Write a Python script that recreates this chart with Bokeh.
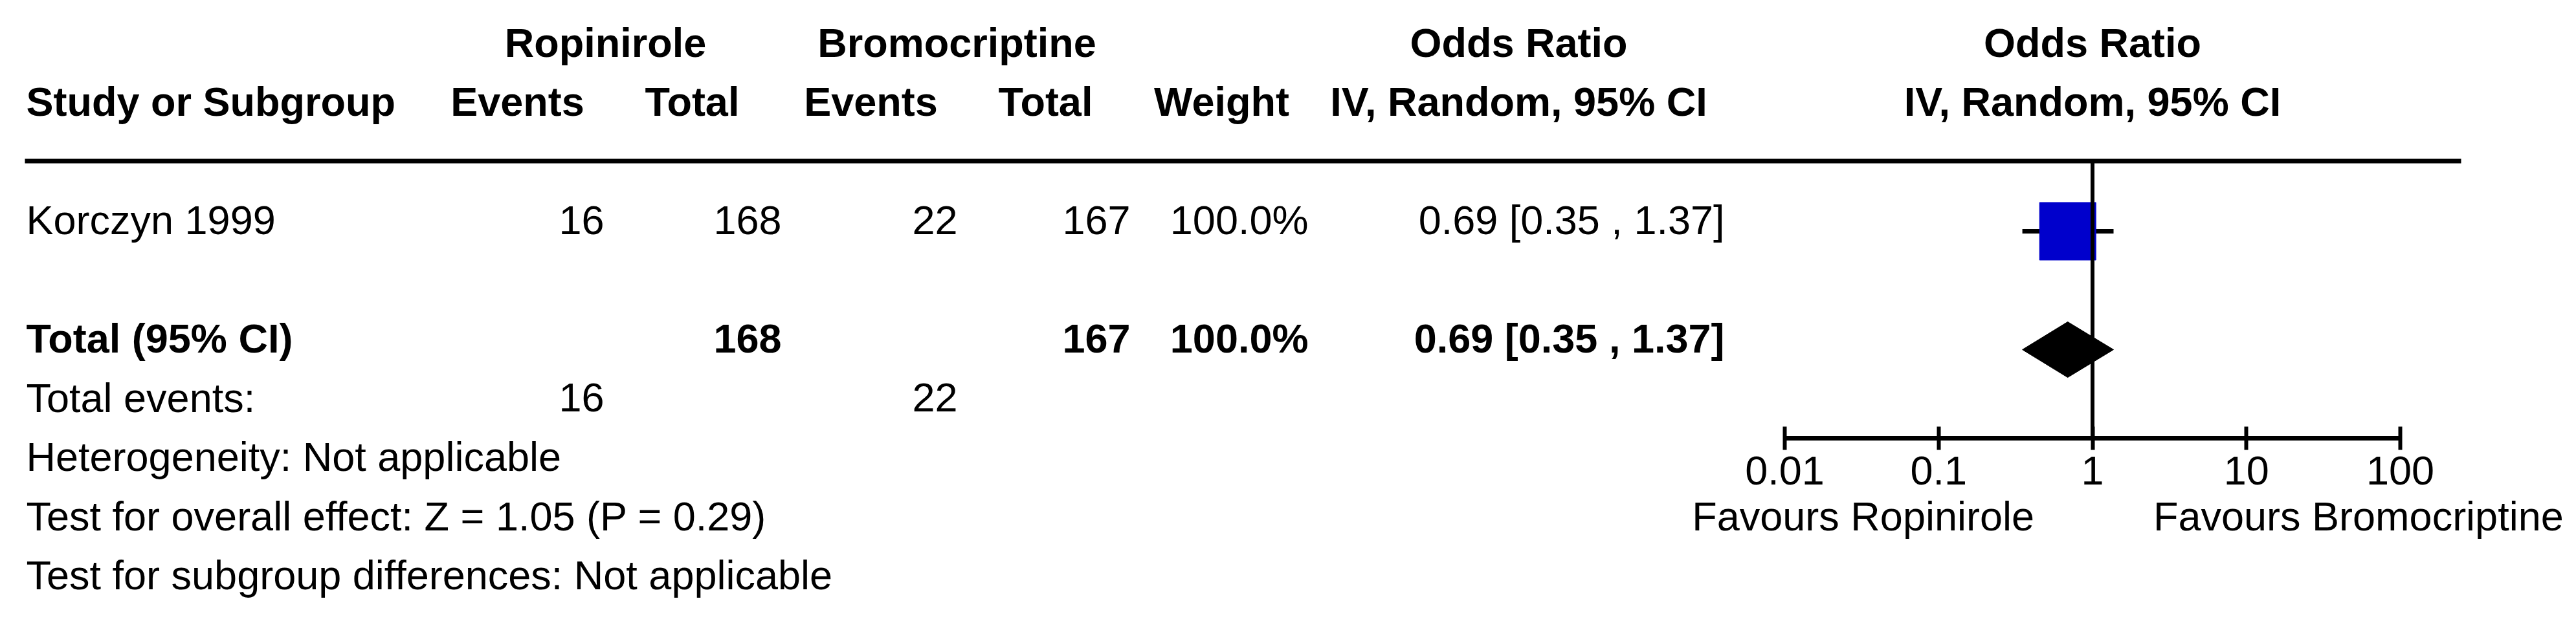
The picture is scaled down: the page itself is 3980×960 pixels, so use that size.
from bokeh.plotting import figure
from bokeh.models import Range1d, LogScale, LinearAxis, FixedTicker, ColumnDataSource
from bokeh.core.properties import value
from bokeh.embed import file_html
from bokeh.resources import INLINE

# ---------------- data ----------------
group_labels = ["Ropinirole", "Bromocriptine"]
studies = ["Korczyn 1999"]
rop_events = [16]
rop_total = [168]
bro_events = [22]
bro_total = [167]
weights = [100.0]
or_est = [0.69]
or_lo = [0.35]
or_hi = [1.37]

pooled_est = [0.69]
pooled_lo = [0.35]
pooled_hi = [1.37]
pooled_weight = [100.0]
overall_z = 1.05
overall_p = 0.29

axis_ticks = [0.01, 0.1, 1, 10, 100]
axis_tick_labels = ["0.01", "0.1", "1", "10", "100"]
favours_left = "Favours Ropinirole"
favours_right = "Favours Bromocriptine"

# ---------------- layout (pixels) ----------------
W, H = 3964, 944
FONT = "Liberation Sans"
FS = "63px"
ROW_PX = 91.5
BASE0 = 88.0            # baseline of first text row (px from top)
TEXT_DY = -23.0 / ROW_PX  # correction of rendered baseline
r_top = (0 - BASE0) / ROW_PX
r_bot = (H - BASE0) / ROW_PX
AXIS_Y = 677.0
r_axis = (AXIS_Y - BASE0) / ROW_PX

DEC_PX = 237.75          # pixels per decade on the forest axis
X001 = 2757.0            # pixel position of 0.01
log_lo = 10 ** (-2 - X001 / DEC_PX)
log_hi = 10 ** (-2 + (W - X001) / DEC_PX)

LEFT = 40
col_right = {"e1": 933, "t1": 1207, "e2": 1479, "t2": 1746, "w": 2021, "ci": 2664}
hdr_center = {"g1": 935, "g2": 1478, "or": 2346,
              "e1": 799, "t1": 1069, "e2": 1345, "t2": 1615, "w": 1887}
MARK_SHIFT = -0.06

p = figure(width=W, height=H, output_backend="svg", toolbar_location=None,
           x_axis_type=None, y_axis_type=None,
           x_range=Range1d(0, W), y_range=Range1d(r_bot, r_top),
           min_border_left=0, min_border_right=0, min_border_top=0,
           min_border_bottom=0, outline_line_color=None,
           background_fill_color="white", border_fill_color="white")
p.extra_x_ranges = {"or": Range1d(log_lo, log_hi)}
p.extra_x_scales = {"or": LogScale()}

def txt(xs, rows, texts, align, bold=False, rng="default", x_offset=0):
    src = ColumnDataSource(dict(x=xs, y=[r + TEXT_DY for r in rows], text=texts))
    p.text(x="x", y="y", text="text", source=src, x_range_name=rng,
           text_font=value(FONT), text_font_size=FS, text_color="black",
           text_align=align, text_baseline="alphabetic", x_offset=x_offset,
           text_font_style="bold" if bold else "normal")

def fmt_ci(e, l, h):
    return f"{e:.2f} [{l:.2f} , {h:.2f}]"

# header row 1
txt([hdr_center["g1"], hdr_center["g2"], hdr_center["or"]], [0, 0, 0],
    [group_labels[0], group_labels[1], "Odds Ratio"], "center", bold=True)
txt([1], [0], ["Odds Ratio"], "center", bold=True, rng="or")
# header row 2
txt([LEFT], [1], ["Study or Subgroup"], "left", bold=True)
txt([hdr_center[k] for k in ["e1", "t1", "e2", "t2", "w", "or"]], [1] * 6,
    ["Events", "Total", "Events", "Total", "Weight", "IV, Random, 95% CI"], "center", bold=True)
txt([1], [1], ["IV, Random, 95% CI"], "center", bold=True, rng="or")

# header rule
hr = 2 - 22.5 / ROW_PX
p.segment(x0=[LEFT - 2], x1=[3802], y0=[hr], y1=[hr], line_color="black", line_width=7)

# study rows
study_rows = [3 + i for i in range(len(studies))]
txt([LEFT] * len(studies), study_rows, studies, "left")
for i, r in enumerate(study_rows):
    txt([col_right["e1"], col_right["t1"], col_right["e2"], col_right["t2"], col_right["w"], col_right["ci"]],
        [r] * 6,
        [str(rop_events[i]), str(rop_total[i]), str(bro_events[i]), str(bro_total[i]),
         f"{weights[i]:.1f}%", fmt_ci(or_est[i], or_lo[i], or_hi[i])], "right")

# total row
tot_row = study_rows[-1] + 2
txt([LEFT], [tot_row], ["Total (95% CI)"], "left", bold=True)
txt([col_right["t1"], col_right["t2"], col_right["w"], col_right["ci"]], [tot_row] * 4,
    [str(sum(rop_total)), str(sum(bro_total)), f"{pooled_weight[0]:.1f}%",
     fmt_ci(pooled_est[0], pooled_lo[0], pooled_hi[0])], "right", bold=True)
ev_row = tot_row + 1
txt([LEFT], [ev_row], ["Total events:"], "left")
txt([col_right["e1"], col_right["e2"]], [ev_row] * 2,
    [str(sum(rop_events)), str(sum(bro_events))], "right")

# footnotes
notes = ["Heterogeneity: Not applicable",
         f"Test for overall effect: Z = {overall_z:.2f} (P = {overall_p:.2f})",
         "Test for subgroup differences: Not applicable"]
txt([LEFT] * len(notes), [ev_row + 1 + i for i in range(len(notes))], notes, "left")

# forest marks
mark_y = [r + MARK_SHIFT for r in study_rows]
p.segment(x0=or_lo, x1=or_hi, y0=mark_y, y1=mark_y, x_range_name="or",
          line_color="black", line_width=7)
p.rect(x=or_est, y=mark_y, width=87, height=89, width_units="screen", height_units="screen",
       x_range_name="or", fill_color="#0000CC", line_color="#0000CC", line_width=1)
dy = 0.47
ty = tot_row + MARK_SHIFT
p.patch(x=[pooled_lo[0], pooled_est[0], pooled_hi[0], pooled_est[0]], y=[ty, ty - dy, ty, ty + dy],
        x_range_name="or", fill_color="black", line_color="black")
p.segment(x0=[1], x1=[1], y0=[hr], y1=[r_axis], x_range_name="or", line_color="black", line_width=6)

# forest axis (placed inside the frame)
ax = LinearAxis(x_range_name="or", ticker=FixedTicker(ticks=axis_ticks),
                bounds=(min(axis_ticks), max(axis_ticks)), fixed_location=r_axis)
ax.major_label_overrides = {t: l for t, l in zip(axis_ticks, axis_tick_labels)}
ax.axis_line_width = 7
ax.axis_line_color = "black"
ax.major_tick_line_width = 6
ax.major_tick_line_color = "black"
ax.major_tick_in = 18
ax.major_tick_out = 18
ax.minor_tick_line_color = None
ax.major_label_text_font = FONT
ax.major_label_text_font_size = FS
ax.major_label_text_color = "black"
ax.major_label_standoff = 10
p.add_layout(ax, "below")

# favours labels
fav_row = 8
txt([1], [fav_row], [favours_left], "right", rng="or", x_offset=-90)
txt([1], [fav_row], [favours_right], "left", rng="or", x_offset=94)

open("out.html", "w").write(file_html(p, INLINE))
